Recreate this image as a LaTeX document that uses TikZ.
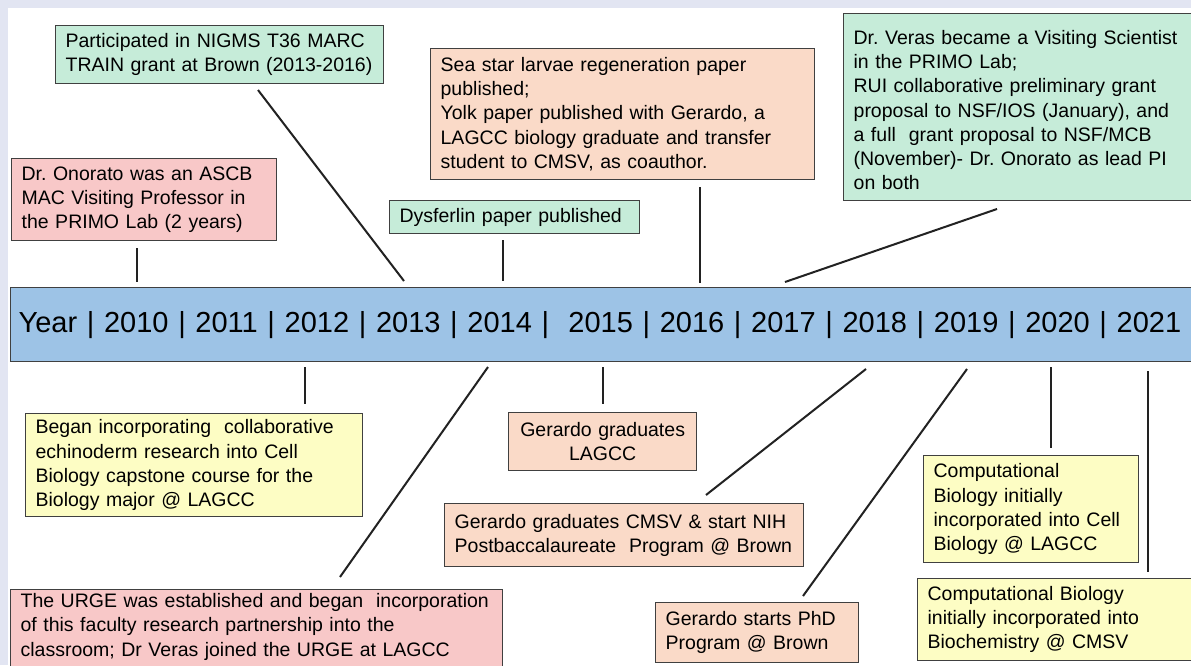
\documentclass[tikz,border=0pt]{standalone}
\usepackage{fontspec}
\setmainfont{Liberation Sans}
\frenchspacing
\definecolor{lav}{HTML}{E2E5F2}
\definecolor{gbox}{HTML}{C6ECD9}
\definecolor{pbox}{HTML}{F8C8C8}
\definecolor{obox}{HTML}{FADAC8}
\definecolor{ybox}{HTML}{FDFDC4}
\definecolor{barblue}{HTML}{9DC3E6}
\definecolor{boxline}{HTML}{404040}
\definecolor{connline}{HTML}{222222}
\begin{document}
\frenchspacing
\begin{tikzpicture}[x=1pt,y=-1pt,
  box/.style={draw=boxline, line width=1.3pt, anchor=north west, align=left,
    inner xsep=10pt, inner ysep=4pt, font=\fontsize{19.5}{24.2}\selectfont},
  conn/.style={draw=connline, line width=2pt},
  yearbar/.style={draw=boxline, fill=barblue, line width=1.3pt, anchor=north west,
    align=left, inner xsep=8pt, inner ysep=0pt, minimum height=74pt,
    font=\fontsize{29}{34}\selectfont}]
\useasboundingbox (0,0) rectangle (1191,665);
\fill[lav] (0,0) rectangle (1191,665);
\fill[white] (8,8) rectangle (1191,665);

% year bar
\node[yearbar, text width=1200pt] (bar) at (10,287)
  {Year | 2010 | 2011 | 2012 | 2013 | 2014 |\ \ 2015 | 2016 | 2017 | 2018 | 2019 | 2020 | 2021};

% top boxes
\node[box, fill=gbox, text width=308pt, minimum height=58pt] (nigms) at (55,25)
  {Participated in NIGMS T36 MARC\\TRAIN grant at Brown (2013-2016)};
\node[box, fill=pbox, text width=245pt, minimum height=82pt] (onorato) at (11,158)
  {Dr. Onorato was an ASCB\\MAC Visiting Professor in\\the PRIMO Lab (2 years)};
\node[box, fill=obox, text width=364pt, minimum height=131pt] (seastar) at (430,48)
  {Sea star larvae regeneration paper\\published;\\Yolk paper published with Gerardo, a\\LAGCC biology graduate and transfer\\student to CMSV, as coauthor.};
\node[box, fill=gbox, text width=230pt, minimum height=33pt] (dysferlin) at (389,200)
  {Dysferlin paper published};
\node[box, fill=gbox, text width=328pt, minimum height=187pt] (veras) at (843,13)
  {\rule{0pt}{20pt}Dr. Veras became a Visiting Scientist\\in the PRIMO Lab;\\RUI collaborative preliminary grant\\proposal to NSF/IOS (January), and\\a full\ \ grant proposal to NSF/MCB\\(November)- Dr. Onorato as lead PI\\on both};

% bottom boxes
\node[box, fill=ybox, text width=317pt, minimum height=103pt] (began) at (25,413)
  {Began incorporating\ \ collaborative\\echinoderm research into Cell\\Biology capstone course for the\\Biology major @ LAGCC};
\node[box, fill=obox, text width=168pt, minimum height=58pt, align=center] (gradlagcc) at (508,412)
  {Gerardo graduates\\LAGCC};
\node[box, fill=obox, text width=339pt, minimum height=63pt] (gradcmsv) at (444,503)
  {Gerardo graduates CMSV \& start NIH\\Postbaccalaureate\ \ Program @ Brown};
\node[box, fill=pbox, text width=472pt, minimum height=82pt] (urge) at (10,589)
  {The URGE was established and began\ \ incorporation\\of this faculty research partnership into the\\classroom; Dr Veras joined the URGE at LAGCC\\\mbox{}};
\node[box, fill=obox, text width=183pt, minimum height=60pt] (phd) at (655,602)
  {Gerardo starts PhD\\Program @ Brown};
\node[box, fill=ybox, text width=195pt, minimum height=107pt] (cblagcc) at (923,455)
  {Computational\\Biology initially\\incorporated into Cell\\Biology @ LAGCC};
\node[box, fill=ybox, text width=260pt, minimum height=82pt] (cbcmsv) at (917,578)
  {Computational Biology\\initially incorporated into\\Biochemistry @ CMSV};

% connector end points
\coordinate (a1) at (137,248);  \coordinate (b1) at (137,282);
\coordinate (a2) at (258,90);   \coordinate (b2) at (404,281);
\coordinate (a3) at (503,240);  \coordinate (b3) at (503,281);
\coordinate (a4) at (700,187);  \coordinate (b4) at (700,283);
\coordinate (a5) at (997,209);  \coordinate (b5) at (785,282);
\coordinate (a6) at (305,367);  \coordinate (b6) at (305,404);
\coordinate (a7) at (488,367);  \coordinate (b7) at (340,577);
\coordinate (a8) at (603,367);  \coordinate (b8) at (603,404);
\coordinate (a9) at (866,369);  \coordinate (b9) at (706,495);
\coordinate (a10) at (967,369); \coordinate (b10) at (803,596);
\coordinate (a11) at (1051,367);\coordinate (b11) at (1051,448);
\coordinate (a12) at (1148,371);\coordinate (b12) at (1148,572);

\foreach \i in {1,...,12} { \draw[conn] (a\i) -- (b\i); }
\end{tikzpicture}
\end{document}
